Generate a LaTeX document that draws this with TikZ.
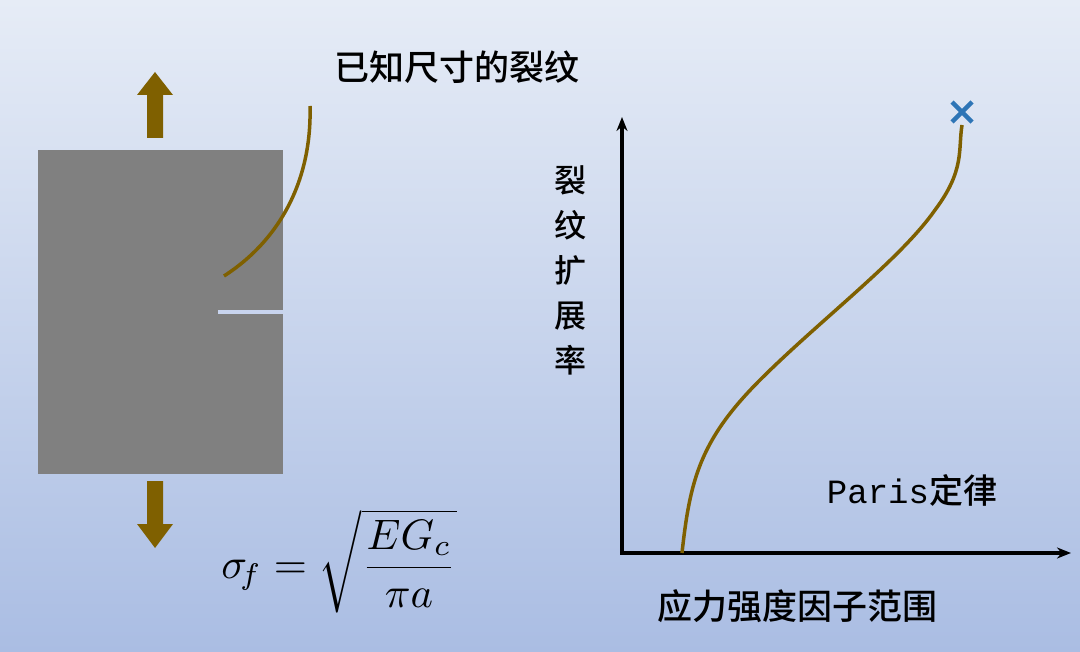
\documentclass[tikz,border=0pt]{standalone}
\usepackage{fontspec}
\usepackage{graphicx}
\usetikzlibrary{arrows.meta}
\newfontfamily\cjk{Noto Sans CJK SC Medium}
\newfontfamily\mono{Liberation Mono}
\setmainfont{Liberation Serif}
\definecolor{brn}{HTML}{7F6000}
\definecolor{xb}{HTML}{2E75B6}
\definecolor{bgtop}{RGB}{230,236,246}
\definecolor{bgbot}{RGB}{170,189,227}
\definecolor{crackc}{RGB}{200,212,238}
\definecolor{plategray}{RGB}{128,128,128}
\begin{document}
\begin{tikzpicture}[x=1pt,y=-1pt,
  lbl/.style={font=\cjk\fontsize{35}{38}\selectfont,inner sep=0},
  axis/.style={line width=3.5pt,-{Stealth[length=14pt,width=11pt]}},
  brncurve/.style={brn,line width=3.5pt}]
\useasboundingbox (0,0) rectangle (1080,652);
\shade[top color=bgtop,bottom color=bgbot] (0,0) rectangle (1080,652);
\node[fill=plategray,minimum width=245,minimum height=324,inner sep=0,anchor=north west] (plate) at (38,150) {};
\coordinate (c1) at (218,312); \coordinate (c2) at (283,312);
\draw[line width=4pt,crackc] (c1) -- (c2);
\fill[brn] (147,138) -- (147,95) -- (137,95) -- (155,72) -- (173,95) -- (163,95) -- (163,138) -- cycle;
\fill[brn] (147,481) -- (147,524) -- (137,524) -- (155,548) -- (173,524) -- (163,524) -- (163,481) -- cycle;
\node[lbl] (t1) at (457,67) {已知尺寸的裂纹};
\coordinate (p1) at (310,106); \coordinate (p2) at (224,276);
\draw[brncurve] (p1) .. controls (312,180) and (280,240) .. (p2);
\node[inner sep=0] (f) at (339,561) {\resizebox{235pt}{!}{$\sigma_{\!f}=\sqrt{\displaystyle\frac{EG_c}{\pi a}}$}};
\coordinate (o) at (622,553); \coordinate (yt) at (622,117); \coordinate (xt) at (1071,553);
\draw[axis] (o) -- (yt);
\draw[axis] ([xshift=-1.75pt]o) -- (xt);
\node[lbl,align=center,font=\cjk\fontsize{32}{45}\selectfont] (yl) at (570,270) {裂\\纹\\扩\\展\\率};
\node[lbl,font=\fontsize{34}{38}\selectfont] (pl) at (912,490) {{\mono Paris}{\cjk 定律}};
\node[lbl] (xl) at (797,606) {应力强度因子范围};
\coordinate (q0) at (682,553); \coordinate (q1) at (962,125);
\draw[brncurve] (q0) .. controls (690,480) and (700,440) .. (760,380)
  .. controls (820,320) and (900,260) .. (935,210)
  .. controls (965,170) and (958,150) .. (q1);
\coordinate (x1) at (952,102); \coordinate (x2) at (972,122);
\coordinate (x3) at (972,102); \coordinate (x4) at (952,122);
\draw[xb,line width=4.5pt] (x1) -- (x2) (x3) -- (x4);
\end{tikzpicture}
\end{document}
